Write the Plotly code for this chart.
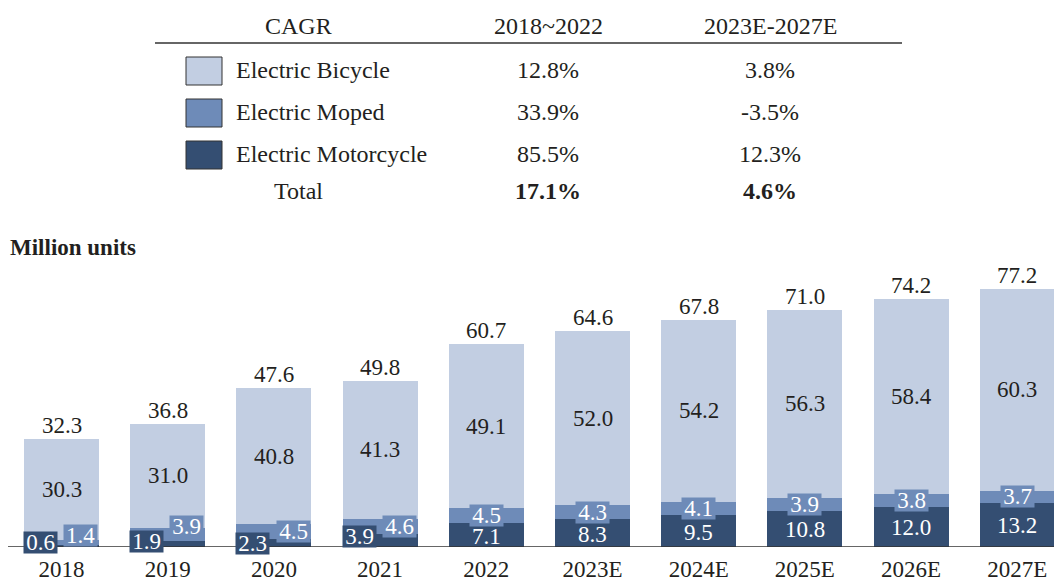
import plotly.graph_objects as go

years = ["2018", "2019", "2020", "2021", "2022", "2023E", "2024E", "2025E", "2026E", "2027E"]
motorcycle = [0.6, 1.9, 2.3, 3.9, 7.1, 8.3, 9.5, 10.8, 12.0, 13.2]
moped = [1.4, 3.9, 4.5, 4.6, 4.5, 4.3, 4.1, 3.9, 3.8, 3.7]
bicycle = [30.3, 31.0, 40.8, 41.3, 49.1, 52.0, 54.2, 56.3, 58.4, 60.3]
totals = [32.3, 36.8, 47.6, 49.8, 60.7, 64.6, 67.8, 71.0, 74.2, 77.2]

cagr_header = ["CAGR", "2018~2022", "2023E-2027E"]
cagr_series = ["Electric Bicycle", "Electric Moped", "Electric Motorcycle"]
cagr_2018_2022 = ["12.8%", "33.9%", "85.5%"]
cagr_2023_2027 = ["3.8%", "-3.5%", "12.3%"]
cagr_total = ["17.1%", "4.6%"]

C_BIKE = "#C2CEE2"
C_MOPED = "#6E8BB8"
C_MOTO = "#344E72"
TXT = "#231F20"
FONT = "Liberation Serif, Times New Roman, serif"
FS_CHART = 23
FS_TABLE = 24

W, H = 1054, 583
T, B = 230, 36
PH = H - T - B
YMAX = PH / 3.342
BASE = H - B


def py(p):
    return (BASE - p) / PH


def px(p):
    return p / W


fig = go.Figure()
bw = 0.706
for name, vals, col in [("Electric Motorcycle", motorcycle, C_MOTO),
                        ("Electric Moped", moped, C_MOPED),
                        ("Electric Bicycle", bicycle, C_BIKE)]:
    fig.add_trace(go.Bar(x=years, y=vals, name=name, marker=dict(color=col, line=dict(width=0)),
                         width=bw, showlegend=False, hoverinfo="skip"))

ann = []
# label offsets (pixels) for small early-year segments: (moto_dx, moto_dy, moped_dx, moped_dy)
small_offsets = [(-21, 4, 19, 7), (-21, 2, 19, 7.5), (-21, 0, 20, 0), (-21, 4, 19.5, 0)]
for i, y in enumerate(years):
    m, p, b, t = motorcycle[i], moped[i], bicycle[i], totals[i]
    ann.append(dict(x=i, y=t, text=f"{t:.1f}", showarrow=False, xanchor="center", yanchor="bottom", yshift=-1,
                    font=dict(family=FONT, size=FS_CHART, color=TXT)))
    ann.append(dict(x=i, y=m + p + b / 2, text=f"{b:.1f}", showarrow=False, xanchor="center", yanchor="middle",
                    font=dict(family=FONT, size=FS_CHART, color=TXT)))
    moto_font = dict(family=FONT, size=FS_CHART, color="white")
    if i < len(small_offsets):
        mdx, mdy, pdx, pdy = small_offsets[i]
        ann.append(dict(x=i, y=m / 2, text=f"{m:.1f}", showarrow=False, xshift=mdx, yshift=mdy,
                        xanchor="center", yanchor="middle",
                        bgcolor=C_MOTO, borderpad=0, height=21, width=33, font=moto_font))
    else:
        pdx, pdy = 0, 0
        ann.append(dict(x=i, y=m / 2, text=f"{m:.1f}", showarrow=False, yshift=-1,
                        xanchor="center", yanchor="middle", font=moto_font))
    ann.append(dict(x=i, y=m + p / 2, text=f"{p:.1f}", showarrow=False, xshift=pdx, yshift=pdy,
                    xanchor="center", yanchor="middle",
                    bgcolor=C_MOPED, borderpad=0, height=21, width=33,
                    font=dict(family=FONT, size=FS_CHART, color="white")))

# table
tf = dict(family=FONT, size=FS_TABLE, color=TXT)


def tann(x, y, text, xanchor="center", font=tf):
    return dict(xref="paper", yref="paper", x=px(x), y=py(y), text=text, showarrow=False,
                xanchor=xanchor, yanchor="middle", font=font)


col_x = [298, 548, 770]
for cx, txt in zip(col_x, cagr_header):
    ann.append(tann(cx, 26, txt))
row_y = [70, 112, 154]
for ry, name, v1, v2 in zip(row_y, cagr_series, cagr_2018_2022, cagr_2023_2027):
    ann.append(tann(234, ry, name, xanchor="left"))
    ann.append(tann(col_x[1], ry, v1))
    ann.append(tann(col_x[2], ry, v2))
ann.append(tann(col_x[0], 191, "Total"))
ann.append(tann(col_x[1], 191, f"<b>{cagr_total[0]}</b>"))
ann.append(tann(col_x[2], 191, f"<b>{cagr_total[1]}</b>"))
ann.append(tann(8, 247, "<b>Million units</b>", xanchor="left", font=dict(family=FONT, size=23, color=TXT)))

shapes = [dict(type="line", xref="paper", yref="paper", x0=px(155), x1=px(902), y0=py(43), y1=py(43),
               line=dict(color="#333333", width=1.5)),
          dict(type="line", xref="paper", yref="y", x0=px(8), x1=1, y0=0, y1=0, layer="above",
               line=dict(color="#333333", width=1.5))]
for ry, col in zip([71, 113, 155], [C_BIKE, C_MOPED, C_MOTO]):
    shapes.append(dict(type="rect", xref="paper", yref="paper", x0=px(186), x1=px(222),
                       y0=py(ry - 14), y1=py(ry + 14), fillcolor=col, line=dict(color="#333333", width=1)))

fig.update_layout(
    width=W, height=H, barmode="stack", bargap=0.294,
    margin=dict(l=0, r=0, t=T, b=B, autoexpand=False),
    paper_bgcolor="white", plot_bgcolor="white",
    annotations=ann, shapes=shapes,
    xaxis=dict(type="category", range=[-61.5 / 106.2, (W - 61.5) / 106.2], showgrid=False, showline=False,
               zeroline=False, tickfont=dict(family=FONT, size=FS_CHART, color=TXT), ticks="",
               ticklabelstandoff=6, automargin=False, fixedrange=True),
    yaxis=dict(range=[0, YMAX], visible=False, fixedrange=True, automargin=False),
    font=dict(family=FONT),
)
fig.write_html("out.html", config={"displayModeBar": False},
               post_script="document.body.style.margin='0';document.body.style.padding='0';")
